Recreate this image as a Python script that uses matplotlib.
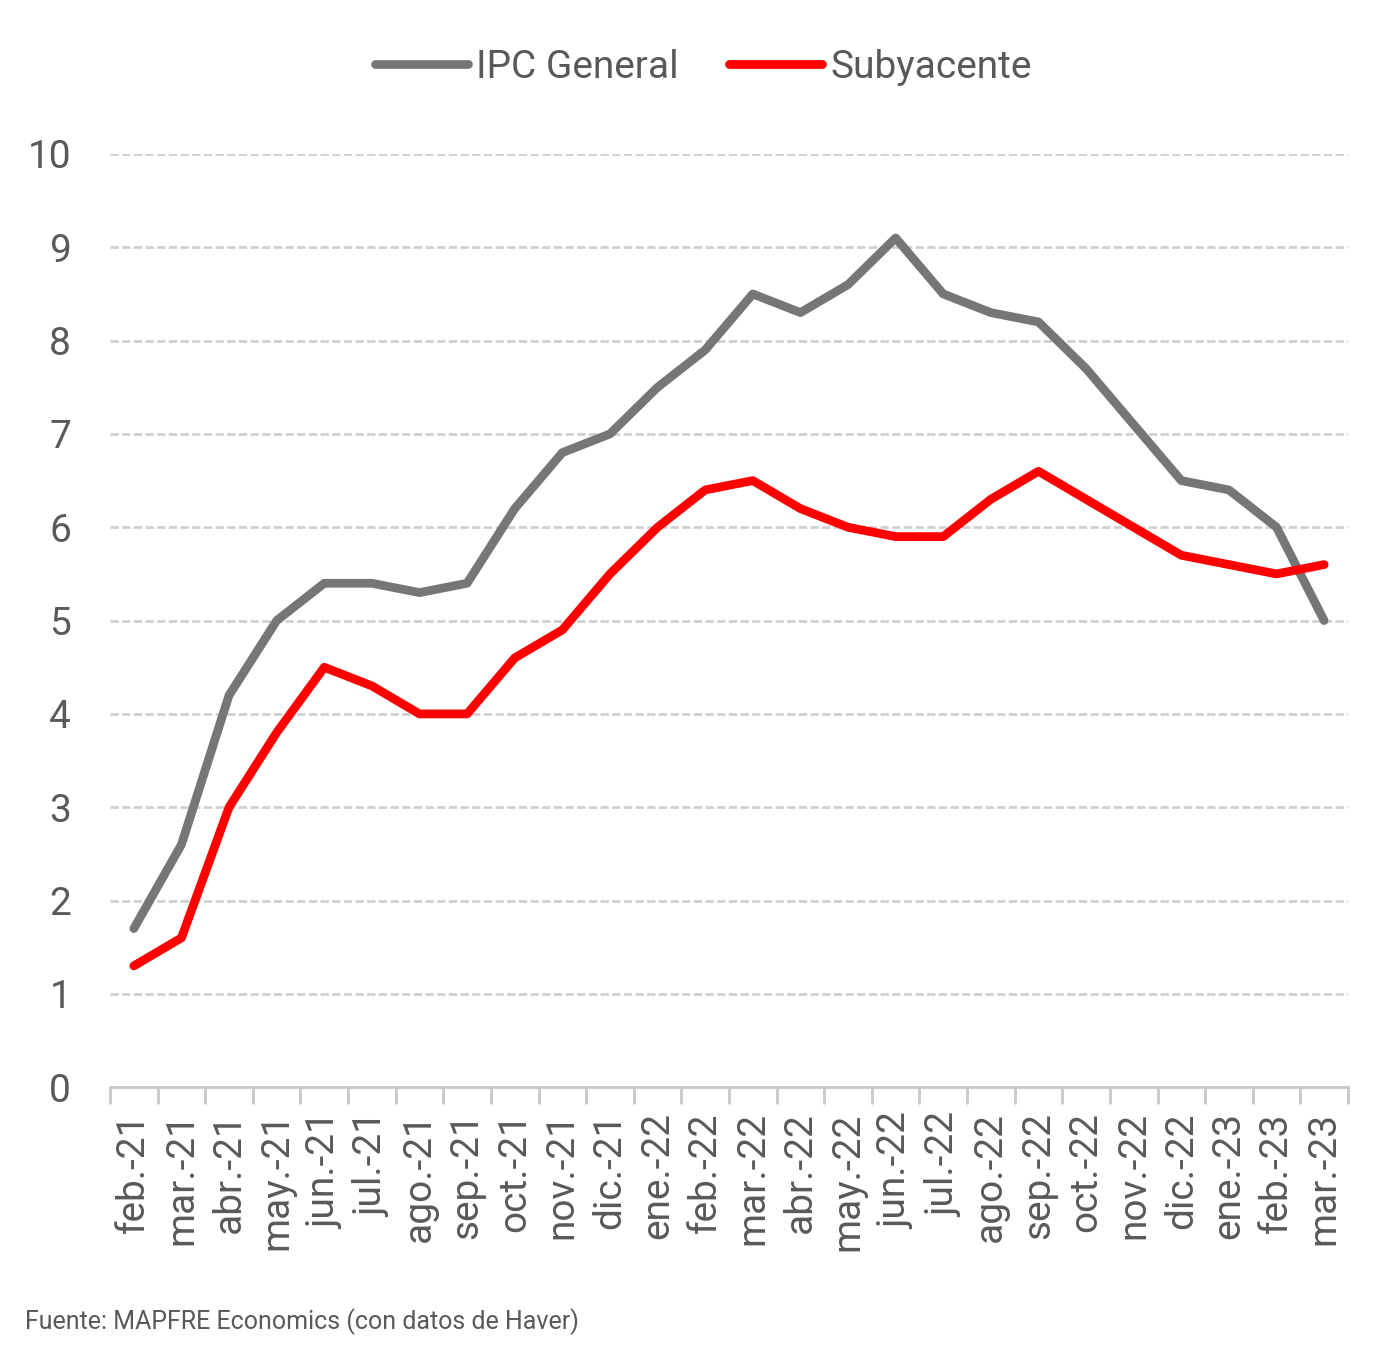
import numpy as np
import matplotlib.pyplot as plt

months = ['feb.-21', 'mar.-21', 'abr.-21', 'may.-21', 'jun.-21', 'jul.-21',
          'ago.-21', 'sep.-21', 'oct.-21', 'nov.-21', 'dic.-21', 'ene.-22',
          'feb.-22', 'mar.-22', 'abr.-22', 'may.-22', 'jun.-22', 'jul.-22',
          'ago.-22', 'sep.-22', 'oct.-22', 'nov.-22', 'dic.-22', 'ene.-23',
          'feb.-23', 'mar.-23']
ipc_general = [1.7, 2.6, 4.2, 5.0, 5.4, 5.4, 5.3, 5.4, 6.2, 6.8, 7.0, 7.5,
               7.9, 8.5, 8.3, 8.6, 9.1, 8.5, 8.3, 8.2, 7.7, 7.1, 6.5, 6.4,
               6.0, 5.0]
subyacente = [1.3, 1.6, 3.0, 3.8, 4.5, 4.3, 4.0, 4.0, 4.6, 4.9, 5.5, 6.0,
              6.4, 6.5, 6.2, 6.0, 5.9, 5.9, 6.3, 6.6, 6.3, 6.0, 5.7, 5.6,
              5.5, 5.6]

plt.rcParams['font.family'] = ['Roboto', 'DejaVu Sans']
txt = '#595959'

fig = plt.figure(figsize=(13.98, 13.59), dpi=100)
ax = fig.add_axes([0.0787, 0.2, 0.8855, 0.6867])

x = np.arange(len(months))
ax.plot(x, ipc_general, color='#767676', lw=6.3, label='IPC General',
        solid_capstyle='round', solid_joinstyle='round', zorder=3)
ax.plot(x, subyacente, color='#ff0000', lw=6.3, label='Subyacente',
        solid_capstyle='round', solid_joinstyle='round', zorder=3)

ax.set_xlim(-0.5, len(months) - 0.5)
ax.set_ylim(0, 10)
ax.set_yticks(range(0, 11))
ax.yaxis.grid(True, color='#d0d0d0', ls=(0, (3, 1.2)), lw=2)
ax.set_axisbelow(True)

for s in ['top', 'right', 'left']:
    ax.spines[s].set_visible(False)
ax.spines['bottom'].set_color('#c8c8c8')
ax.spines['bottom'].set_linewidth(2)

ax.set_xticks(x)
ax.set_xticklabels(months, rotation=90, fontsize=28, color=txt)
ax.set_xticks(np.arange(-0.5, len(months)), minor=True)
ax.tick_params(axis='x', which='major', length=0, pad=18)
ax.tick_params(axis='x', which='minor', length=12, width=2, color='#c8c8c8')
ax.tick_params(axis='y', length=0, pad=28, labelsize=28, labelcolor=txt)

ax.legend(loc='upper center', bbox_to_anchor=(0.479, 1.15), ncol=2, frameon=False,
          fontsize=28, handlelength=2.4, handletextpad=0.2, columnspacing=1.3,
          labelcolor=txt)

fig.text(0.018, 0.022, 'Fuente: MAPFRE Economics (con datos de Haver)',
         fontsize=18, color=txt)

fig.savefig('out.png', dpi=100)
